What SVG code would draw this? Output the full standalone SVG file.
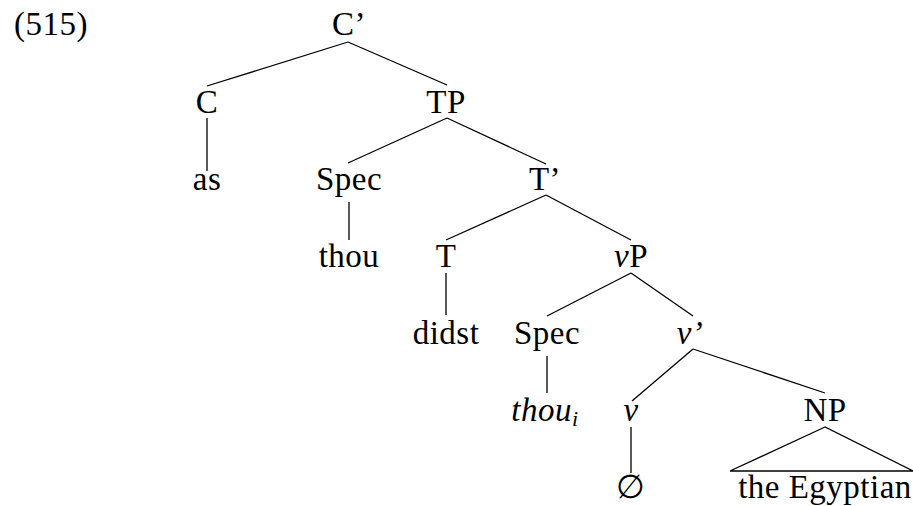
<svg xmlns="http://www.w3.org/2000/svg" width="913" height="506" viewBox="0 0 913 506">
<style>
text{font-family:"Liberation Serif","Times New Roman",serif;font-size:33px;fill:#000;text-anchor:middle;letter-spacing:0.5px}
.i{font-style:italic}
.sub{font-size:22px}
line,polygon{stroke:#000;stroke-width:1.3;fill:none}
</style>
<rect width="913" height="506" fill="#fff"/>
<text id="ex" x="14" y="35" style="text-anchor:start">(515)</text>
<g id="connectors">
<line x1="348" y1="42" x2="207" y2="86"/>
<line x1="348" y1="42" x2="447" y2="85"/>
<line x1="207" y1="118" x2="207" y2="171"/>
<line x1="447" y1="118" x2="348" y2="163"/>
<line x1="447" y1="118" x2="546" y2="164"/>
<line x1="349" y1="202" x2="349" y2="240"/>
<line x1="546" y1="195" x2="446" y2="240"/>
<line x1="546" y1="195" x2="631" y2="240"/>
<line x1="446" y1="273" x2="446" y2="315"/>
<line x1="631" y1="273" x2="547" y2="316"/>
<line x1="631" y1="273" x2="693" y2="316"/>
<line x1="693" y1="349" x2="632" y2="401"/>
<line x1="693" y1="349" x2="825" y2="393"/>
<line x1="547" y1="356" x2="547" y2="393"/>
<line x1="631" y1="427" x2="631" y2="473"/>
<polygon points="825,427 730,471 913,471"/>
</g>
<g id="Cbar"><text x="349" y="35">C’</text></g>
<g id="C"><text x="207" y="113">C</text></g>
<g id="TP"><text x="446" y="113">TP</text></g>
<g id="as"><text x="207" y="190">as</text></g>
<g id="Spec1"><text x="349" y="190">Spec</text></g>
<g id="Tbar"><text x="545" y="190">T’</text></g>
<g id="thou"><text x="349" y="267">thou</text></g>
<g id="T"><text x="446" y="267">T</text></g>
<g id="vP"><text x="631" y="267"><tspan class="i">v</tspan>P</text></g>
<g id="didst"><text x="446" y="344">didst</text></g>
<g id="Spec2"><text x="547" y="344">Spec</text></g>
<g id="vbar"><text x="690" y="344" class="i">v’</text></g>
<g id="thoui"><text x="545" y="421" class="i">thou<tspan class="sub" dy="5">i</tspan></text></g>
<g id="v"><text x="631" y="421" class="i">v</text></g>
<g id="NP"><text x="825" y="421">NP</text></g>
<g id="empty"><text x="631" y="498">∅</text></g>
<g id="Egyptian"><text x="825" y="498">the Egyptian</text></g>
</svg>
